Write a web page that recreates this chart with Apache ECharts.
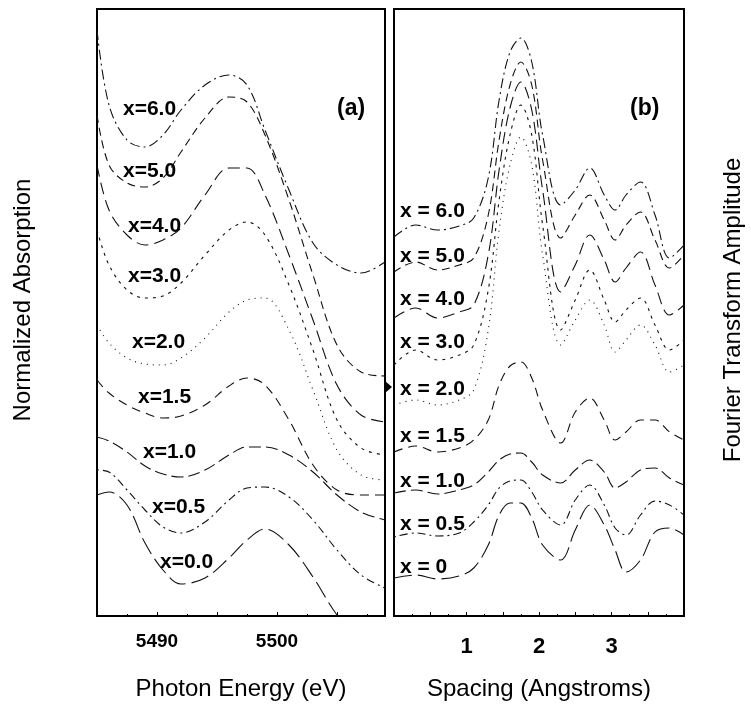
<!DOCTYPE html>
<html>
<head>
<meta charset="utf-8">
<script src="https://cdn.jsdelivr.net/npm/echarts@6/dist/echarts.min.js"></script>
<style>html,body{margin:0;padding:0;background:#fff;}#chart{width:751px;height:710px;}</style>
</head>
<body>
<div id="chart"></div>
<script>
// ---------- Panel (a): XANES, photon energy (eV) ----------
const energyEV = [5485, 5486, 5487.5, 5489, 5490.5, 5492, 5494, 5496, 5497.5, 5499, 5501, 5503, 5505, 5507, 5509];
// offset normalized absorption (arbitrary units, curves stacked)
const absX60 = [586, 511, 476, 469, 481, 506, 531, 541, 531, 486, 426, 373, 351, 343, 354];
const absX50 = [501, 451, 433, 429, 438, 464, 498, 519, 514, 481, 416, 341, 271, 244, 240];
const absX40 = [451, 406, 381, 371, 376, 388, 421, 448, 448, 421, 361, 296, 231, 201, 194];
const absX30 = [386, 351, 326, 318, 320, 333, 361, 386, 394, 381, 331, 266, 196, 168, 161];
const absX20 = [291, 273, 258, 252, 251, 258, 278, 304, 316, 318, 286, 226, 166, 141, 136];
const absX15 = [236, 223, 211, 203, 198, 200, 211, 230, 238, 231, 196, 151, 126, 121, 121];
const absX10 = [179, 175, 164, 150, 142, 139, 146, 161, 169, 169, 161, 144, 121, 104, 96];
const absX05 = [146, 144, 126, 106, 89, 83, 94, 116, 128, 129, 119, 96, 66, 41, 28];
const absX00 = [121, 124, 111, 73, 46, 32, 38, 58, 76, 87, 71, 39, 1, -24, -34];
const energyTicks = [5490, 5500];

// ---------- Panel (b): Fourier transform, spacing (Angstroms) ----------
const spacingA = [0, 0.3, 0.6, 0.9, 1.1, 1.3, 1.45, 1.6, 1.75, 1.9, 2.05, 2.3, 2.5, 2.7, 2.9, 3.05, 3.2, 3.4, 3.6, 3.8, 4.0];
const ftX60 = [379, 391, 386, 390, 398, 438, 516, 564, 578, 554, 481, 411, 426, 448, 421, 406, 421, 434, 401, 358, 371];
const ftX50 = [344, 354, 346, 351, 358, 401, 476, 531, 554, 531, 456, 378, 401, 421, 396, 376, 391, 404, 376, 348, 361];
const ftX40 = [298, 308, 298, 304, 311, 361, 446, 508, 534, 506, 426, 324, 351, 381, 356, 334, 348, 364, 331, 301, 311];
const ftX30 = [251, 266, 256, 261, 271, 326, 416, 481, 511, 481, 391, 286, 316, 346, 316, 294, 306, 318, 291, 266, 276];
const ftX20 = [211, 216, 211, 216, 226, 286, 386, 451, 479, 451, 361, 271, 296, 316, 291, 264, 276, 291, 271, 244, 251];
const ftX15 = [164, 170, 164, 168, 176, 196, 231, 250, 254, 238, 206, 173, 204, 218, 196, 176, 184, 196, 196, 184, 176];
const ftX10 = [123, 126, 122, 126, 131, 144, 156, 162, 163, 154, 141, 133, 146, 156, 144, 128, 134, 146, 148, 138, 131];
const ftX05 = [79, 83, 80, 83, 94, 111, 128, 135, 136, 124, 106, 91, 116, 131, 111, 88, 81, 101, 115, 111, 101];
const ftX00 = [38, 41, 37, 40, 48, 71, 101, 113, 113, 98, 71, 56, 86, 111, 91, 66, 44, 56, 84, 88, 81];
const spacingTicks = [1, 2, 3];

const compositions = ['6.0', '5.0', '4.0', '3.0', '2.0', '1.5', '1.0', '0.5', '0.0'];
const absSeries = [absX60, absX50, absX40, absX30, absX20, absX15, absX10, absX05, absX00];
const ftSeries = [ftX60, ftX50, ftX40, ftX30, ftX20, ftX15, ftX10, ftX05, ftX00];
const labelsA = ['x=6.0', 'x=5.0', 'x=4.0', 'x=3.0', 'x=2.0', 'x=1.5', 'x=1.0', 'x=0.5', 'x=0.0'];
const labelsB = ['x = 6.0', 'x = 5.0', 'x = 4.0', 'x = 3.0', 'x = 2.0', 'x = 1.5', 'x = 1.0', 'x = 0.5', 'x = 0'];

// styles (kept separate from data)
const dashes = [[10,4,2,4],[8,5],[12,6],[3,5],[1,5],[9,6],[12,5],[2,4,8,4],[18,6]];
const labelPosA = [[123,110],[123,172],[128,227],[128,277],[132,343],[138,398],[143,453],[152,508],[160,563]];
const labelPosB = [[400,212],[400,257],[400,300],[400,343],[400,390],[400,437],[400,482],[400,525],[400,568]];
const FONT = 'Liberation Sans, Arial, Helvetica, sans-serif';

const chart = echarts.init(document.getElementById('chart'), null, {renderer: 'canvas'});

const series = [];
compositions.forEach((c, k) => {
  series.push({
    type: 'line', xAxisIndex: 0, yAxisIndex: 0, name: 'a' + c,
    data: energyEV.map((e, i) => [e, absSeries[k][i]]),
    showSymbol: false, smooth: 0.35, silent: true,
    lineStyle: {color: '#111', width: 1.1, type: dashes[k]}
  });
  series.push({
    type: 'line', xAxisIndex: 1, yAxisIndex: 1, name: 'b' + c,
    data: spacingA.map((s, i) => [s, ftSeries[k][i]]),
    showSymbol: false, smooth: 0.35, silent: true,
    lineStyle: {color: '#111', width: 1.1, type: dashes[k]}
  });
});

const graphic = [];
labelsA.forEach((t, k) => graphic.push({type: 'text', left: labelPosA[k][0], top: labelPosA[k][1] - 11, z: 10,
  style: {text: t, font: 'bold 21px ' + FONT, fill: '#000'}}));
labelsB.forEach((t, k) => graphic.push({type: 'text', left: labelPosB[k][0], top: labelPosB[k][1] - 11, z: 10,
  style: {text: t, font: 'bold 21px ' + FONT, fill: '#000'}}));
graphic.push({type: 'text', left: 337, top: 97, style: {text: '(a)', font: 'bold 23px ' + FONT, fill: '#000'}});
graphic.push({type: 'text', left: 630, top: 97, style: {text: '(b)', font: 'bold 23px ' + FONT, fill: '#000'}});
graphic.push({type: 'text', x: 23, y: 300, rotation: Math.PI / 2,
  style: {text: 'Normalized Absorption', font: '24px ' + FONT, fill: '#000', textAlign: 'center', textVerticalAlign: 'middle'}});
graphic.push({type: 'text', x: 733, y: 310, rotation: Math.PI / 2,
  style: {text: 'Fourier Transform Amplitude', font: '24px ' + FONT, fill: '#000', textAlign: 'center', textVerticalAlign: 'middle'}});
graphic.push({type: 'polygon', shape: {points: [[385, 381], [385, 393], [392, 387]]}, style: {fill: '#000'}});

chart.setOption({
  animation: false,
  backgroundColor: '#fff',
  grid: [
    {left: 97, right: 366, top: 9, bottom: 94, show: true, borderColor: '#000', borderWidth: 2, backgroundColor: 'transparent'},
    {left: 394, right: 67, top: 9, bottom: 94, show: true, borderColor: '#000', borderWidth: 2, backgroundColor: 'transparent'}
  ],
  xAxis: [
    {type: 'value', gridIndex: 0, min: 5485, max: 5509, interval: 5,
     axisLine: {show: false}, splitLine: {show: false},
     axisTick: {show: true, inside: true, length: 4, lineStyle: {color: '#000'}},
     minorTick: {show: true, splitNumber: 2, length: 2, lineStyle: {color: '#000'}},
     axisLabel: {margin: 16, color: '#000', fontFamily: FONT, fontWeight: 'bold', fontSize: 19,
       formatter: v => energyTicks.includes(v) ? String(v) : ''},
     name: 'Photon Energy (eV)', nameLocation: 'middle', nameGap: 61,
     nameTextStyle: {color: '#000', fontFamily: FONT, fontSize: 24}},
    {type: 'value', gridIndex: 1, min: 0, max: 4, interval: 0.5,
     axisLine: {show: false}, splitLine: {show: false},
     axisTick: {show: true, inside: true, length: 4, lineStyle: {color: '#000'}},
     minorTick: {show: true, splitNumber: 2, length: 2, lineStyle: {color: '#000'}},
     axisLabel: {margin: 20, color: '#000', fontFamily: FONT, fontWeight: 'bold', fontSize: 22,
       formatter: v => spacingTicks.includes(v) ? String(v) : ''},
     name: 'Spacing (Angstroms)', nameLocation: 'middle', nameGap: 61,
     nameTextStyle: {color: '#000', fontFamily: FONT, fontSize: 24}}
  ],
  yAxis: [
    {type: 'value', gridIndex: 0, min: 0, max: 607, show: false},
    {type: 'value', gridIndex: 1, min: 0, max: 607, show: false}
  ],
  series: series,
  graphic: graphic
});
</script>
</body>
</html>
